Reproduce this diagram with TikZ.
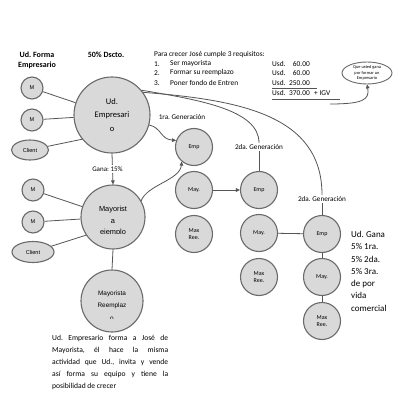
\documentclass[tikz,border=0pt]{standalone}
\usepackage{fontspec}
\setmainfont{Carlito}
\newfontfamily\arialf{Liberation Sans}
\usetikzlibrary{arrows.meta,shapes.geometric}
\definecolor{cfill}{HTML}{D9D9D9}
\definecolor{cline}{HTML}{6A6A6A}
\definecolor{lcol}{HTML}{555555}
\frenchspacing
\begin{document}
\begin{tikzpicture}[x=1pt,y=-1pt,
  circ/.style={circle,draw=cline,fill=cfill,line width=1.1pt,inner sep=0pt,align=center},
  ovl/.style={ellipse,draw=cline,fill=cfill,line width=1.1pt,inner sep=0pt,align=center},
  conn/.style={draw=lcol,line width=0.8pt},
  arr/.style={conn,-{Triangle[length=4pt,width=3.6pt]}},
  lbl/.style={font=\fontsize{7.4}{9}\selectfont,inner sep=0pt},
  gen/.style={font=\fontsize{7.2}{9}\selectfont,inner sep=1.5pt,fill=white},
  sm/.style={font=\arialf\fontsize{5.6}{7}\selectfont},
  cs/.style={font=\fontsize{6}{6.6}\selectfont}
]
\useasboundingbox[fill=white] (0,0) rectangle (400,414);

% titles
\node[font=\bfseries\fontsize{8}{10}\selectfont,align=center] (t1) at (37,60) {Ud. Forma\\Empresario};
\node[font=\bfseries\fontsize{8}{10}\selectfont] (t2) at (106,55) {50\% Dscto.};

% requirements
\node[lbl,anchor=west] (req) at (154,55) {Para crecer José cumple 3 requisitos:};
\node[lbl,anchor=west] (n1) at (154,64) {1.};
\node[lbl,anchor=west] (n2) at (154,73) {2.};
\node[lbl,anchor=west] (n3) at (154,83) {3.};
\node[lbl,anchor=west] (r1) at (170,64) {Ser mayorista};
\node[lbl,anchor=west] (r2) at (170,73) {Formar su reemplazo};
\node[lbl,anchor=west] (r3) at (170,83) {Poner fondo de Entren};
\node[lbl,anchor=west] (u1) at (272,64) {Usd.};
\node[lbl,anchor=west] (u2) at (272,73) {Usd.};
\node[lbl,anchor=west] (u3) at (272,83) {Usd.};
\node[lbl,anchor=west] (u4) at (272,93) {Usd.};
\node[lbl,anchor=east] (v1) at (310,64) {60.00};
\node[lbl,anchor=east] (v2) at (310,73) {60.00};
\node[lbl,anchor=east] (v3) at (310,83) {250.00};
\node[lbl,anchor=east] (v4) at (310,93) {370.00};
\node[lbl,anchor=west] (igv) at (314,93) {+ IGV};
\draw[lcol,line width=0.7pt] (272,88) -- (317,88);
\draw[lcol,line width=1.7pt] (272,99.5) -- (340,99.5);

% note ellipse
\node[ellipse,draw=cline,fill=white,line width=0.9pt,minimum width=50pt,minimum height=22pt,inner sep=0pt,align=center,font=\fontsize{4.4}{5.4}\selectfont] (q) at (367,73) {Que usted gana\\por formar un\\Empresario};
\coordinate (qs) at (330,104);
\draw[arr] (qs) .. controls (362,104) and (370,100) .. (q.south);

% main circle
\node[circ,minimum size=76pt,font=\fontsize{8.5}{13.5}\selectfont] (ud) at (112,115) {Ud.\\Empresari\\o};
\node[circ,minimum size=22pt,sm] (m1) at (32,88) {M};
\node[circ,minimum size=22pt,sm] (m2) at (32,120) {M};
\node[ovl,minimum width=37pt,minimum height=20pt,sm] (cl1) at (30,150) {Client};
\draw[conn] (m1) -- (ud);
\draw[conn] (m2) -- (ud);
\draw[conn] (cl1) -- (ud.219);

% mayorista
\node[circ,minimum size=64pt] (may) at (113,217) {};
\begin{scope}
\clip (80,190) rectangle (146,233.8);
\node[align=center,font=\arialf\fontsize{7.4}{11.5}\selectfont] (maytx) at (113,221.5) {Mayorist\\a\\ejemplo};
\end{scope}
\node[circ,minimum size=22pt,sm] (m3) at (33,190) {M};
\node[circ,minimum size=22pt,sm] (m4) at (33,222) {M};
\node[ovl,minimum width=42pt,minimum height=21pt,sm] (cl2) at (33,252) {Client};
\draw[conn] (m3) -- (may);
\draw[conn] (m4) -- (may);
\draw[conn] (cl2) -- (may.214);
\draw[arr] (ud.south) -- node[font=\fontsize{7}{8}\selectfont,fill=white,inner sep=1.2pt,xshift=-5pt] (gana15) {Gana: 15\%} (may.north);

% reemplazo
\node[circ,minimum size=62pt] (rem) at (112,301) {};
\begin{scope}
\clip (80,280) rectangle (145,318.5);
\node[align=center,font=\arialf\fontsize{6.4}{12.5}\selectfont] (remtx) at (112,305.5) {Mayorista\\Reemplaz\\o};
\end{scope}
\draw[conn] (may.south) -- (rem.north);

% paragraph
\node[anchor=north west,inner sep=0pt,text width=116pt,align=justify,font=\fontsize{7.6}{12}\selectfont] (para) at (52,335.5)
{Ud. Empresario forma a José de\linebreak Mayorista, él hace la misma\linebreak actividad que Ud., invita y vende\linebreak así forma su equipo y tiene la\linebreak posibilidad de crecer};

% generation nodes
\node[circ,minimum size=37pt,cs] (emp1) at (194,147) {Emp};
\node[circ,minimum size=37pt,cs] (may1) at (194,190) {May.};
\node[circ,minimum size=37pt,cs] (mr1) at (194,234) {Max\\Ree.};
\node[circ,minimum size=37pt,cs] (emp2) at (259,190) {Emp};
\node[circ,minimum size=37pt,cs] (may2) at (259,233) {May.};
\node[circ,minimum size=37pt,cs] (mr2) at (259,277) {Max\\Ree.};
\node[circ,minimum size=37pt,cs] (emp3) at (322,234) {Emp};
\node[circ,minimum size=37pt,cs] (may3) at (322,277) {May.};
\node[circ,minimum size=37pt,cs] (mr3) at (322,321) {Max\\Ree.};

\node[gen] (g1) at (182,117) {1ra. Generación};
\node[gen] (g2a) at (259,147) {2da. Generación};
\node[gen] (g2b) at (322,199) {2da. Generación};

\draw[conn] (ud.40) .. controls (200,100) and (259,110) .. (g2a.north);
\draw[conn] (ud.36) .. controls (240,100) and (322,115) .. (g2b.north);
\draw[arr] (ud.-15) .. controls (162,128) and (160,139) .. (emp1.160);
\draw[arr] (may.30) .. controls (147,185) and (180,180) .. (emp1.230);
\draw[arr] (may1) -- (emp2);
\draw[conn] (g2a) -- (emp2);
\draw[conn] (g2b) -- (emp3);
\draw[conn] (may2) -- (emp3);
\draw[conn] (emp3) -- (may3);
\draw[conn] (may3) -- (mr3);

\node[anchor=north west,inner sep=0pt,align=left,font=\fontsize{9}{12.3}\selectfont] (gana) at (351,231) {Ud. Gana\\5\% 1ra.\\5\% 2da.\\5\% 3ra.\\de por\\vida\\comercial};
\end{tikzpicture}
\end{document}
